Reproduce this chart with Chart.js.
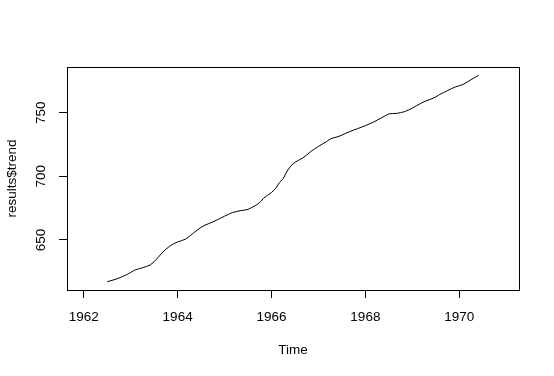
<!DOCTYPE html>
<html>
<head>
<meta charset="utf-8">
<script src="https://cdn.jsdelivr.net/npm/chart.js@4/dist/chart.umd.min.js"></script>
<style>
  body { margin: 0; background: #fff; }
  #wrap { width: 554px; height: 376px; }
</style>
</head>
<body>
<div id="wrap"><canvas id="trendChart" width="554" height="376"></canvas></div>
<script>
// monthly trend, Jul 1962 .. Jun 1970
const seriesStart = 1962.5;
const seriesFreq = 12;
const trendValues = [
  617.1, 618.0, 618.9, 620.0, 621.3, 622.7, 624.4, 626.2, 627.2, 628.1, 629.1, 630.3,
  632.9, 636.2, 639.7, 642.7, 645.1, 647.0, 648.4, 649.4, 650.6, 652.8, 655.3, 657.7,
  659.9, 661.6, 662.9, 664.2, 665.6, 667.1, 668.7, 670.1, 671.5, 672.3, 673.0, 673.4,
  674.0, 675.6, 677.2, 679.4, 682.8, 685.1, 687.3, 690.3, 695.0, 698.3, 704.2, 708.4,
  711.0, 712.8, 714.5, 716.8, 719.4, 721.5, 723.5, 725.4, 727.2, 729.3, 730.4, 731.2,
  732.4, 733.9, 735.2, 736.4, 737.5, 738.7, 739.9, 741.2, 742.5, 744.2, 745.8, 747.5,
  749.1, 749.4, 749.5, 750.1, 750.9, 752.1, 753.6, 755.4, 757.1, 758.7, 759.9, 761.1,
  762.4, 764.4, 765.9, 767.4, 769.0, 770.3, 771.3, 772.3, 774.1, 776.0, 777.8, 779.5
];
const xTickLabels = [1962, 1964, 1966, 1968, 1970];
const yTickLabels = [650, 700, 750];
// full series covers 1962.0 .. 1970.917, R pads the range by 4%
const xRange = [1961.643, 1971.273];
const yRange = [610.6, 786.0];

const points = trendValues.map((v, i) => ({ x: seriesStart + i / seriesFreq, y: v }));

const boxPlugin = {
  id: 'box',
  afterDraw(chart) {
    const { ctx, chartArea: a } = chart;
    ctx.save();
    ctx.strokeStyle = '#000';
    ctx.lineWidth = 1;
    ctx.strokeRect(a.left + 0.5, a.top + 0.5, a.right - a.left, a.bottom - a.top);
    ctx.restore();
  }
};

const font = { family: 'Liberation Sans, Arial, sans-serif', size: 13.5 };

new Chart(document.getElementById('trendChart').getContext('2d'), {
  type: 'line',
  data: {
    datasets: [{
      data: points,
      borderColor: '#000',
      borderWidth: 1,
      pointRadius: 0,
      fill: false,
      tension: 0
    }]
  },
  options: {
    responsive: false,
    animation: false,
    layout: { padding: { top: 67, right: 35, left: 0, bottom: 0 } },
    plugins: { legend: { display: false }, tooltip: { enabled: false } },
    scales: {
      x: {
        type: 'linear',
        min: xRange[0],
        max: xRange[1],
        afterBuildTicks: s => { s.ticks = xTickLabels.map(v => ({ value: v })); },
        afterFit: s => { s.height = 86; },
        ticks: {
          color: '#000', font: font, padding: 11, autoSkip: false,
          maxRotation: 0, callback: v => String(v)
        },
        grid: { drawOnChartArea: false, drawTicks: true, tickLength: 8, color: '#000' },
        border: { display: false },
        title: { display: true, text: 'Time', color: '#000', font: font, padding: { top: 0, bottom: 18 } }
      },
      y: {
        type: 'linear',
        min: yRange[0],
        max: yRange[1],
        afterBuildTicks: s => { s.ticks = yTickLabels.map(v => ({ value: v })); },
        afterFit: s => { s.width = 67; },
        ticks: {
          color: '#000', font: font, padding: 6, minRotation: 90, maxRotation: 90,
          crossAlign: 'center', callback: v => String(v)
        },
        grid: { drawOnChartArea: false, drawTicks: true, tickLength: 8, color: '#000' },
        border: { display: false },
        title: { display: true, text: 'results$trend', color: '#000', font: font, padding: { top: 4, bottom: 0 } }
      }
    }
  },
  plugins: [boxPlugin]
});
</script>
</body>
</html>
